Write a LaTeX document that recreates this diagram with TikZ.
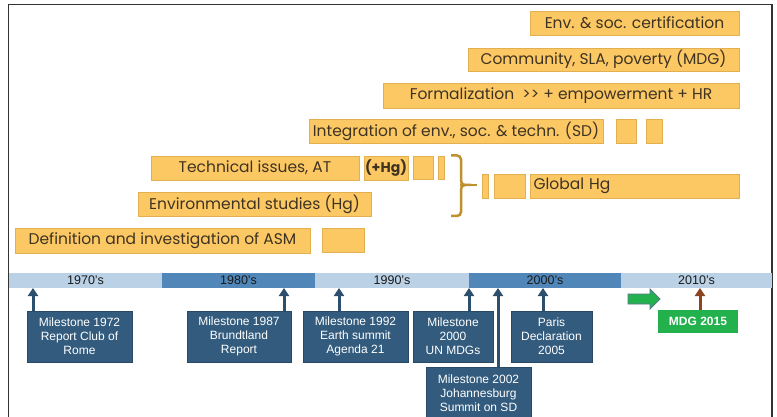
\documentclass[tikz,border=0pt]{standalone}
\usepackage{fontspec}
\setmainfont{Poppins}
\newfontfamily\arialfont{Liberation Sans}
\usetikzlibrary{arrows.meta}
\definecolor{yfill}{HTML}{FCC864}
\definecolor{yline}{HTML}{E2B050}
\definecolor{ytext}{HTML}{3E3322}
\definecolor{blight}{HTML}{BAD1E6}
\definecolor{bdark}{HTML}{5087B8}
\definecolor{mbox}{HTML}{325B7D}
\definecolor{mline}{HTML}{284A66}
\definecolor{marrow}{HTML}{2B4F6C}
\definecolor{gbox}{HTML}{22B14C}
\definecolor{garrline}{HTML}{5C7590}
\definecolor{brownarr}{HTML}{8B4520}
\definecolor{bracec}{HTML}{BF9030}
\tikzset{
  ybox/.style={draw=yline, fill=yfill, line width=0.8pt, inner sep=0pt, outer sep=0pt,
    anchor=north west, text=ytext, font=\fontsize{15.5}{17}\selectfont},
  barseg/.style={inner sep=0pt, outer sep=0pt, anchor=north west, minimum height=15pt,
    font=\arialfont\fontsize{12.5}{14}\selectfont, text=black!90},
  mstone/.style={draw=mline, fill=mbox, line width=0.8pt, inner sep=0pt, outer sep=0pt,
    anchor=north west, text=white, align=center,
    font=\arialfont\fontsize{12}{14}\selectfont},
  marr/.style={draw=marrow, line width=3pt, -{Triangle[width=10pt,length=8pt]}},
}
\begin{document}
\begin{tikzpicture}[x=1pt,y=-1pt]
\useasboundingbox (0,0) rectangle (777,417);
\fill[white] (0,0) rectangle (777,417);
% frame
\draw[black!80, line width=1.5pt] (8.5,420) -- (8.5,4.5) -- (772,4.5) -- (772,420);
% yellow boxes
\node[ybox, minimum width=209pt, minimum height=24pt] (cert) at (530,11) {Env. \& soc. certification};
\node[ybox, minimum width=271pt, minimum height=23pt] (comm) at (468,48) {Community, SLA, poverty (MDG)};
\node[ybox, minimum width=356pt, minimum height=25pt] (form) at (383,83) {Formalization\ \ {>}{>} + empowerment + HR};
\node[ybox, minimum width=294pt, minimum height=24pt] (integ) at (309,119) {Integration of env., soc. \& techn. (SD)};
\node[ybox, minimum width=20pt, minimum height=24pt] (intega) at (616,119) {};
\node[ybox, minimum width=16pt, minimum height=24pt] (integb) at (646,119) {};
\node[ybox, minimum width=208pt, minimum height=24pt] (tech) at (151,156) {Technical issues, AT};
\node[ybox, minimum width=44pt, minimum height=24pt, font=\bfseries\fontsize{14}{16}\selectfont] (hg) at (364,156) {(+Hg)};
\node[ybox, minimum width=20pt, minimum height=23pt] (techa) at (413,156) {};
\node[ybox, minimum width=6pt, minimum height=23pt] (techb) at (438,156) {};
\node[ybox, minimum width=233pt, minimum height=24pt] (envst) at (138,192) {Environmental studies (Hg)};
\node[ybox, minimum width=295pt, minimum height=25pt] (asm) at (15,228) {Definition and investigation of ASM};
\node[ybox, minimum width=42pt, minimum height=24pt] (asma) at (322,228) {};
\node[ybox, minimum width=6pt, minimum height=24pt] (globa) at (482,174) {};
\node[ybox, minimum width=31pt, minimum height=24pt] (globb) at (494,174) {};
\node[ybox, minimum width=209pt, minimum height=24pt, text width=202pt, align=left] (glob) at (530,174) {Global Hg};
% brace
\draw[bracec, line width=2.5pt, rounded corners=4pt]
  (451,155.5) -- (461,155.5) -- (461,185) -- (464,185) -- (461,185) -- (461,216) -- (451,216);
\draw[bracec, line width=2.5pt] (462,185) -- (477,185);
% timeline bar
\node[barseg, fill=blight, minimum width=154pt] (b70) at (8.5,273) {1970’s};
\node[barseg, fill=bdark, minimum width=153pt] (b80) at (162,273) {1980’s};
\node[barseg, fill=blight, minimum width=154pt] (b90) at (315,273) {1990’s};
\node[barseg, fill=bdark, minimum width=152pt] (b00) at (469,273) {2000’s};
\node[barseg, fill=blight, minimum width=151pt] (b10) at (621,273) {2010’s};
% milestones
\node[mstone, minimum width=105pt, minimum height=51pt] (m72) at (27,311) {Milestone 1972\\Report Club of\\Rome};
\node[mstone, minimum width=104pt, minimum height=51pt] (m87) at (187,311) {Milestone 1987\\Brundtland\\Report};
\node[mstone, minimum width=105pt, minimum height=51pt] (m92) at (303,311) {Milestone 1992\\Earth summit\\Agenda 21};
\node[mstone, minimum width=80pt, minimum height=51pt] (m00) at (413,311) {Milestone\\2000\\UN MDGs};
\node[mstone, minimum width=81pt, minimum height=51pt] (m05) at (511,311) {Paris\\Declaration\\2005};
\node[mstone, minimum width=105pt, minimum height=52pt] (m02) at (426,367) {Milestone 2002\\Johannesburg\\Summit on SD};
\node[draw=none, fill=gbox, inner sep=0pt, outer sep=0pt, anchor=north west, minimum width=80pt, minimum height=23pt,
  text=white, font=\arialfont\bfseries\fontsize{12}{14}\selectfont] (mdg) at (658,310) {MDG 2015};
% arrows
\draw[marr] ([xshift=6pt]m72.north west) -- ([xshift=6pt]m72.north west |- b70.south);
\draw[marr] ([xshift=-7pt]m87.north east) -- ([xshift=-7pt]m87.north east |- b80.south);
\draw[marr] ([xshift=36pt]m92.north west) -- ([xshift=36pt]m92.north west |- b90.south);
\draw[marr] ([xshift=56pt]m00.north west) -- ([xshift=56pt]m00.north west |- b00.south);
\draw[marr] ([xshift=72pt]m02.north west) -- ([xshift=72pt]m02.north west |- b00.south);
\draw[marr] ([xshift=32pt]m05.north west) -- ([xshift=32pt]m05.north west |- b00.south);
\draw[draw=brownarr, line width=3pt, -{Triangle[width=10pt,length=8pt]}] ([xshift=42pt]mdg.north west) -- ([xshift=42pt]mdg.north west |- b10.south);
% green block arrow
\filldraw[fill=gbox, draw=garrline, line width=0.8pt]
  (628,294) -- (650,294) -- (650,289) -- (660,299) -- (650,309) -- (650,304) -- (628,304) -- cycle;
\end{tikzpicture}
\end{document}
